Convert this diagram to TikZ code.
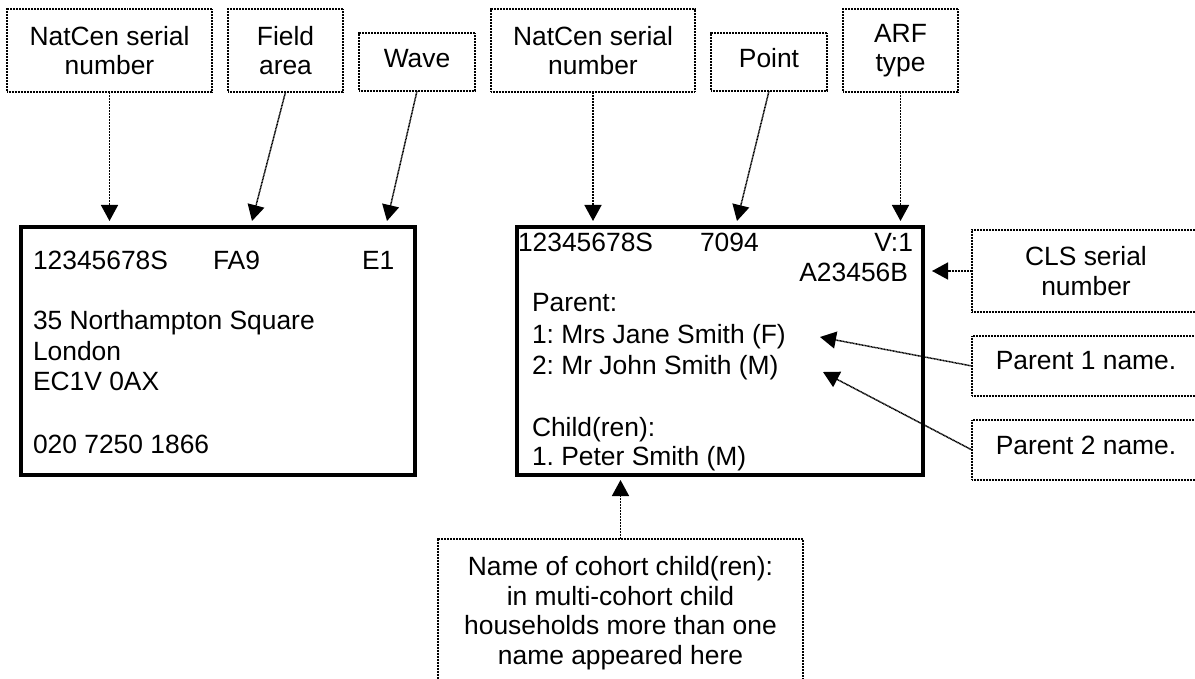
\documentclass[tikz,border=0pt]{standalone}
\usepackage{fontspec}
\setmainfont{Liberation Sans}
\usetikzlibrary{arrows.meta,calc}
\begin{document}
\frenchspacing
\begin{tikzpicture}[x=1pt,y=-1pt,
  lab/.style={draw, line width=1.5pt, dash pattern=on 1pt off 0.5pt, inner sep=0pt, outer sep=0pt, align=center, font=\fontsize{26.4}{29.5}\selectfont\frenchspacing},
  onetall/.style={text height=19pt, text depth=#1},
  mainbox/.style={draw, line width=4pt, inner sep=0pt, outer sep=2pt},
  txt/.style={inner sep=0pt, outer sep=0pt, font=\fontsize{26.4}{30}\selectfont\frenchspacing},
  conn/.style={line width=1.5pt, dash pattern=on 1pt off 0.5pt, -{Triangle[length=16pt,width=17pt]}}]
\useasboundingbox (0,0) rectangle (1195,679);
\clip (0,0) rectangle (1195,679);
% top labels
\node[lab, minimum width=205pt, minimum height=83pt] (l1) at (109.5,50.5) {NatCen serial\\number};
\node[lab, minimum width=115pt, minimum height=83pt] (l2) at (285.5,50.5) {Field\\area};
\node[lab, onetall=7pt, minimum width=116pt, minimum height=58pt] (l3) at (417,62) {Wave};
\node[lab, minimum width=204pt, minimum height=83pt] (l4) at (593,50.5) {NatCen serial\\number};
\node[lab, onetall=7pt, minimum width=116pt, minimum height=58pt] (l5) at (769,62) {Point};
\node[lab, minimum width=115pt, minimum height=83pt] (l6) at (900.5,50.5) {ARF\\type};
% right labels
\node[lab, minimum width=228pt, minimum height=82pt] (cls) at (1086,271) {CLS serial\\number};
\node[lab, onetall=11pt, minimum width=228pt, minimum height=60pt] (p1) at (1086,366) {Parent 1 name.};
\node[lab, onetall=11pt, minimum width=228pt, minimum height=60pt] (p2) at (1086,450) {Parent 2 name.};
% bottom label
\node[lab, minimum width=365pt, minimum height=148pt] (bot) at (620.5,613) {Name of cohort child(ren):\\in multi-cohort child\\households more than one\\name appeared here};
% main boxes
\node[mainbox, minimum width=394pt, minimum height=248pt] (L) at (218,351) {};
\node[mainbox, minimum width=406pt, minimum height=248pt] (R) at (720,351) {};
% left box text
\node[txt, anchor=base west] (t1) at (33,270) {12345678S};
\node[txt, anchor=base west] (t2) at (213,270) {FA9};
\node[txt, anchor=base west] (t3) at (362,270) {E1};
\node[txt, anchor=base west] (t4) at (33,330) {35 Northampton Square};
\node[txt, anchor=base west] (t5) at (33,360) {London};
\node[txt, anchor=base west] (t6) at (33,390) {EC1V 0AX};
\node[txt, anchor=base west] (t7) at (33,453) {020 7250 1866};
% right box text
\node[txt, anchor=base west] (r1) at (518,252) {12345678S};
\node[txt, anchor=base west] (r2) at (700,252) {7094};
\node[txt, anchor=base east] (r3) at (913,252) {V:1};
\node[txt, anchor=base east] (r4) at (908,282) {A23456B};
\node[txt, anchor=base west] (r5) at (532,312) {Parent:};
\node[txt, anchor=base west] (r6) at (532,344) {1: Mrs Jane Smith (F)};
\node[txt, anchor=base west] (r7) at (532,374) {2: Mr John Smith (M)};
\node[txt, anchor=base west] (r8) at (532,436) {Child(ren):};
\node[txt, anchor=base west] (r9) at (532,465) {1. Peter Smith (M)};
% arrow targets
\coordinate (e2) at (252,221);
\coordinate (e3) at (387,221);
\coordinate (e5) at (737,221);
\coordinate (ep1) at (820,337);
\coordinate (ep2) at (823,372);
% connectors
\draw[conn, shorten >=4pt] (l1.south) -- (l1.south |- L.north);
\draw[conn] (l2.south) -- (e2);
\draw[conn] (l3.south) -- (e3);
\draw[conn, shorten >=4pt] (l4.south) -- (l4.south |- R.north);
\draw[conn] (l5.south) -- (e5);
\draw[conn, shorten >=4pt] (l6.south) -- (l6.south |- R.north);
\draw[conn, shorten >=7pt] (cls.west) -- (cls.west -| R.east);
\draw[conn] (p1.west) -- (ep1);
\draw[conn] (p2.west) -- (ep2);
\draw[conn, shorten >=3pt] (bot.north) -- (bot.north |- R.south);
\end{tikzpicture}
\end{document}
